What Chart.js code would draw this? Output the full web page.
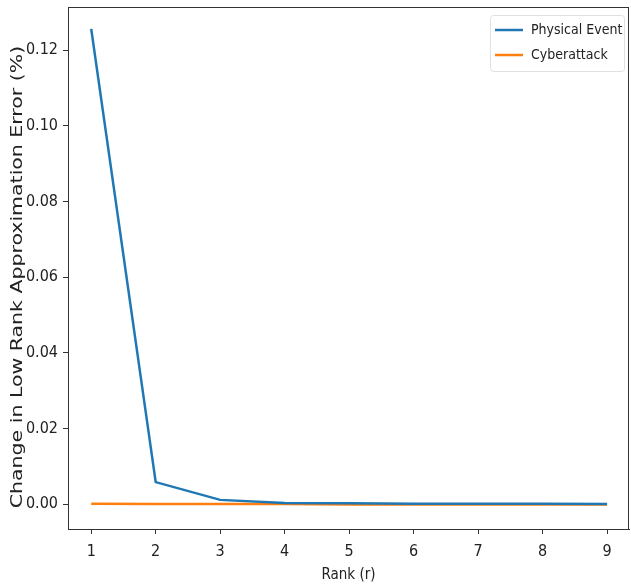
<!DOCTYPE html>
<html>
<head>
<meta charset="utf-8">
<script src="https://cdn.jsdelivr.net/npm/chart.js@4/dist/chart.umd.min.js"></script>
<style>
  html, body { margin: 0; padding: 0; background: #fff; }
  #wrap { width: 631px; height: 586px; }
</style>
</head>
<body>
<div id="wrap"><canvas id="myChart"></canvas></div>
<script>
const ranks = [1, 2, 3, 4, 5, 6, 7, 8, 9];
const physicalEvent = [0.1256, 0.0058, 0.0011, 0.0003, 0.0002, 0.0001, 0.0001, 0.0001, 0.0000];
const cyberattack = [0.0001, 0.0000, 0.0000, 0.0000, -0.0001, -0.0001, -0.0001, -0.0001, -0.0001];
const yTicks = [0, 0.02, 0.04, 0.06, 0.08, 0.10, 0.12];
const yTitle = 'Change in Low Rank Approximation Error (%)';

const tickFont = { family: 'DejaVu Sans Condensed', size: 16 };

// box round the plot, the stretched y title and the legend inside
const frame = {
	id: 'frame',
	afterDraw(chart) {
		const { ctx, chartArea: a } = chart;
		ctx.save();
		ctx.strokeStyle = '#333';
		ctx.lineWidth = 1;
		ctx.strokeRect(a.left + 0.5, a.top + 0.5, a.right - a.left - 1, a.bottom - a.top);

		ctx.save();
		ctx.translate(18, (a.top + a.bottom) / 2 + 9);
		ctx.rotate(-Math.PI / 2);
		ctx.scale(1.28, 1);
		ctx.font = '16px "DejaVu Sans"';
		ctx.fillStyle = '#222';
		ctx.textAlign = 'center';
		ctx.textBaseline = 'middle';
		ctx.fillText(yTitle, 0, 0);
		ctx.restore();

		const x0 = a.right - 139, y0 = a.top + 8;
		ctx.fillStyle = 'rgba(255,255,255,0.8)';
		ctx.strokeStyle = '#e0e0e0';
		ctx.beginPath();
		ctx.roundRect(x0 + 0.5, y0 + 0.5, 134, 56, 3);
		ctx.fill();
		ctx.stroke();
		ctx.font = '14px "DejaVu Sans Condensed"';
		ctx.textBaseline = 'middle';
		chart.data.datasets.forEach((ds, i) => {
			const y = y0 + 15 + i * 25;
			ctx.strokeStyle = ds.borderColor;
			ctx.lineWidth = 2.5;
			ctx.beginPath();
			ctx.moveTo(x0 + 5, y);
			ctx.lineTo(x0 + 33, y);
			ctx.stroke();
			ctx.fillStyle = '#222';
			ctx.fillText(ds.label, x0 + 41, y);
		});
		ctx.restore();
	}
};

new Chart(document.getElementById('myChart'), {
	type: 'line',
	data: {
		datasets: [
			{
				label: 'Physical Event',
				data: ranks.map((r, i) => ({ x: r, y: physicalEvent[i] })),
				borderColor: '#1f77b4',
				borderWidth: 2.5,
				pointRadius: 0,
				tension: 0
			},
			{
				label: 'Cyberattack',
				data: ranks.map((r, i) => ({ x: r, y: cyberattack[i] })),
				borderColor: '#ff7f0e',
				borderWidth: 2.5,
				pointRadius: 0,
				tension: 0
			}
		]
	},
	options: {
		responsive: true,
		maintainAspectRatio: false,
		animation: false,
		layout: { padding: { top: 7, right: 2, bottom: 0, left: 0 } },
		plugins: { legend: { display: false }, tooltip: { enabled: false } },
		scales: {
			x: {
				type: 'linear',
				min: 0.64,
				max: 9.34,
				afterBuildTicks: s => { s.ticks = ranks.map(v => ({ value: v })); },
				grid: { display: true, drawOnChartArea: false, drawTicks: true, tickLength: 5, tickColor: '#333' },
				border: { color: '#333' },
				ticks: { color: '#222', font: tickFont, padding: 8, maxRotation: 0 },
				title: { display: true, text: 'Rank (r)', color: '#222', font: { family: 'DejaVu Sans Condensed', size: 15 }, padding: { top: 0, bottom: 2 } },
				afterFit: s => { s.height = 57; s.paddingLeft = 0; s.paddingRight = 0; }
			},
			y: {
				min: -0.0066,
				max: 0.1314,
				afterBuildTicks: s => { s.ticks = yTicks.map(v => ({ value: v })); },
				grid: { display: true, drawOnChartArea: false, drawTicks: true, tickLength: 5, tickColor: '#333' },
				border: { color: '#333' },
				ticks: { color: '#222', font: tickFont, padding: 5, callback: v => v.toFixed(2) },
				afterFit: s => { s.width = 68; s.paddingTop = 0; s.paddingBottom = 0; }
			}
		}
	},
	plugins: [frame]
});
</script>
</body>
</html>
